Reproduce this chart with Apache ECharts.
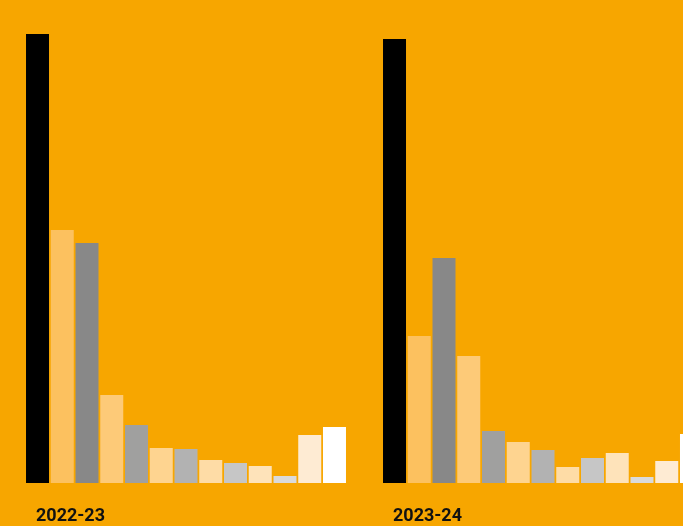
<!DOCTYPE html>
<html>
<head>
<meta charset="utf-8">
<script src="https://cdn.jsdelivr.net/npm/echarts@6/dist/echarts.min.js"></script>
<style>
  html, body { margin: 0; padding: 0; background: #f7a600; }
  #chart { width: 683px; height: 526px; }
</style>
</head>
<body>
<div id="chart"></div>
<script>
// two seasons, thirteen bars each
const seasons = ['2022-23', '2023-24'];

const seriesNames = ['s1', 's2', 's3', 's4', 's5', 's6', 's7', 's8', 's9', 's10', 's11', 's12', 's13'];
const seriesColors = [
  '#000000', '#fcc15f', '#888888', '#fdca78', '#a0a09f', '#fed490', '#b2b2b2',
  '#fedca6', '#c6c6c6', '#fee3ba', '#dadada', '#feebd3', '#ffffff'
];

// values per series: [2022-23, 2023-24]
const values = [
  [449, 444],
  [253, 147],
  [240, 225],
  [88, 127],
  [58, 52],
  [35, 41],
  [34, 33],
  [23, 16],
  [20, 25],
  [17, 30],
  [7, 6],
  [48, 22],
  [56, 49]
];

const chart = echarts.init(document.getElementById('chart'));

chart.setOption({
  backgroundColor: '#f7a600',
  animation: false,
  // second group runs past the right edge, so the grid is wider than the canvas
  grid: {
    left: 7.5, right: -38.5, top: 0, bottom: 43,
    containLabel: false,
    outerBoundsMode: 'none'
  },
  xAxis: {
    type: 'category',
    data: seasons,
    axisLine: { show: false },
    axisTick: { show: false },
    axisLabel: {
      margin: 24,
      formatter: v => `{t|${v}}{s|}`,
      rich: {
        t: {
          fontFamily: 'Roboto',
          fontWeight: 'bold',
          fontSize: 18,
          lineHeight: 18,
          color: '#111111'
        },
        s: { width: 231 }
      }
    }
  },
  yAxis: {
    type: 'value',
    min: 0,
    max: 483,
    show: false,
    splitLine: { show: false }
  },
  series: seriesNames.map((name, i) => ({
    name,
    type: 'bar',
    data: values[i],
    barWidth: 23,
    barGap: '7.6%',
    itemStyle: { color: seriesColors[i] }
  }))
});

window.addEventListener('resize', () => chart.resize());
</script>
</body>
</html>
